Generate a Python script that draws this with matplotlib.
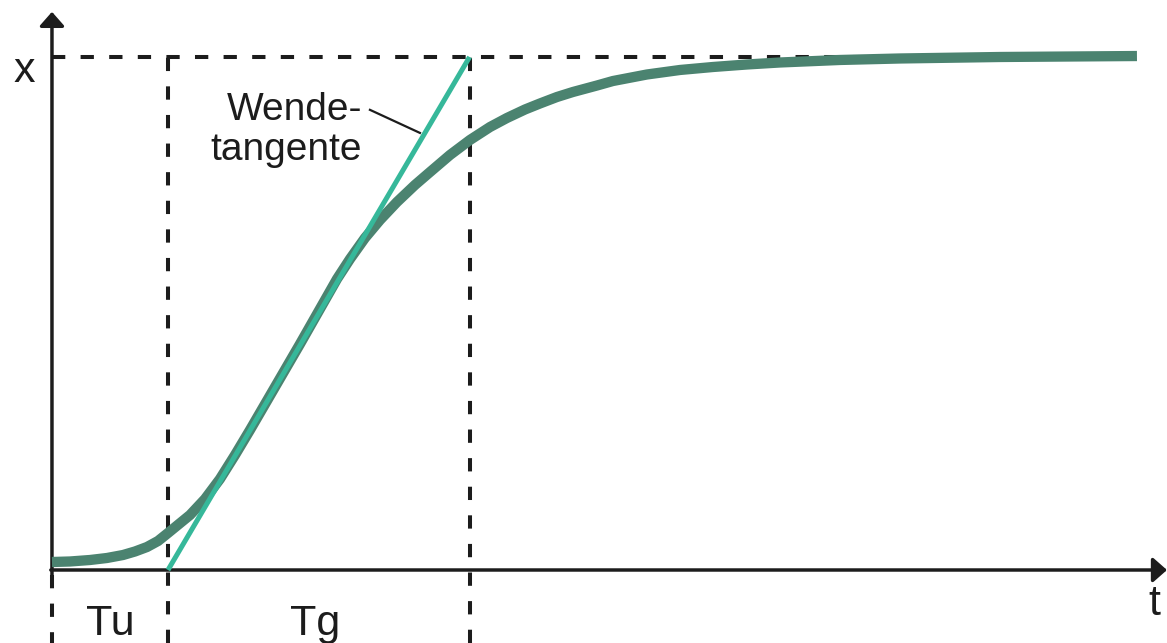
import matplotlib
matplotlib.use("Agg")
import matplotlib.pyplot as plt

# step response (t in units of Tu, x normalised to 1)
t_curve = [0.000, 0.155, 0.328, 0.474, 0.612, 0.716, 0.819, 0.914, 1.000, 1.190,
           1.319, 1.448, 1.578, 1.707, 2.138, 2.457, 2.569, 2.698, 2.828, 2.974,
           3.129, 3.259, 3.431, 3.603, 3.776, 3.922, 4.078, 4.207, 4.353, 4.491,
           4.698, 4.836, 5.129, 5.414, 5.698, 5.991, 6.276, 6.793, 7.310, 8.172,
           9.353]
x_curve = [0.0156, 0.0166, 0.0195, 0.0234, 0.0292, 0.0361, 0.0448, 0.0565, 0.0721, 0.1072,
           0.1384, 0.1774, 0.2242, 0.2729, 0.4405, 0.5673, 0.6062, 0.6472, 0.6823, 0.7173,
           0.7505, 0.7758, 0.8090, 0.8382, 0.8635, 0.8811, 0.8977, 0.9094, 0.9220, 0.9318,
           0.9444, 0.9532, 0.9659, 0.9747, 0.9805, 0.9854, 0.9893, 0.9942, 0.9971, 1.0000,
           1.0019]

tu = 1.0      # Verzugszeit
tg = 2.6      # Ausgleichszeit
x_end = 1.0   # Endwert
t_max = 9.353

curve_col = '#4b8370'
tang_col = '#36b89a'
ink = '#1c1c1c'

fig = plt.figure(figsize=(11.67, 6.43), dpi=100)
ax = fig.add_axes([0, 0, 1, 1])
ax.set_xlim(-0.448, 9.612)
ax.set_ylim(-0.1423, 1.1111)
ax.axis('off')

### dashed helper lines
dash = dict(color=ink, lw=2.9, linestyle=(0, (3.3, 3.8)))
ax.plot([0, t_max], [x_end, x_end], **dash)
ax.plot([tu, tu], [-0.1423, x_end], **dash)
ax.plot([tu + tg, tu + tg], [-0.1423, x_end], **dash)
ax.plot([0, 0], [-0.01, -0.1423], **dash)

### axes with arrows
arrow = dict(arrowstyle='-|>,head_length=0.85,head_width=0.75', mutation_scale=10,
             lw=2.5, color=ink, shrinkA=0, shrinkB=0)
ax.annotate('', xy=(0, 1.088), xytext=(0, -0.01), arrowprops=arrow)
ax.annotate('', xy=(9.612, 0), xytext=(-0.01, 0), arrowprops=arrow)

### step response and inflection tangent
ax.plot(t_curve, x_curve, color=curve_col, lw=7.4, solid_capstyle='butt',
        solid_joinstyle='round', zorder=3)
ax.plot([tu, tu + tg], [0, x_end], color=tang_col, lw=3.6, solid_capstyle='butt', zorder=4)

### labels
font = 'Liberation Sans'
ax.text(-0.24, 0.952, 'x', fontsize=31, family=font, ha='center', va='baseline', color=ink)
ax.text(9.5, -0.088, 't', fontsize=31, family=font, ha='center', va='baseline', color=ink)
ax.text(tu / 2, -0.127, 'Tu', fontsize=31, family=font, ha='center', va='baseline', color=ink)
ax.text(tu + tg / 2 - 0.03, -0.127, 'Tg', fontsize=31, family=font, ha='center', va='baseline', color=ink)
ax.text(2.672, 0.877, 'Wende-', fontsize=28, family=font, ha='right', va='baseline', color=ink)
ax.text(2.672, 0.799, 'tangente', fontsize=28, family=font, ha='right', va='baseline', color=ink)
ax.plot([2.741, 3.172], [0.897, 0.852], color=ink, lw=1.6)

fig.savefig('out.png', dpi=100)
